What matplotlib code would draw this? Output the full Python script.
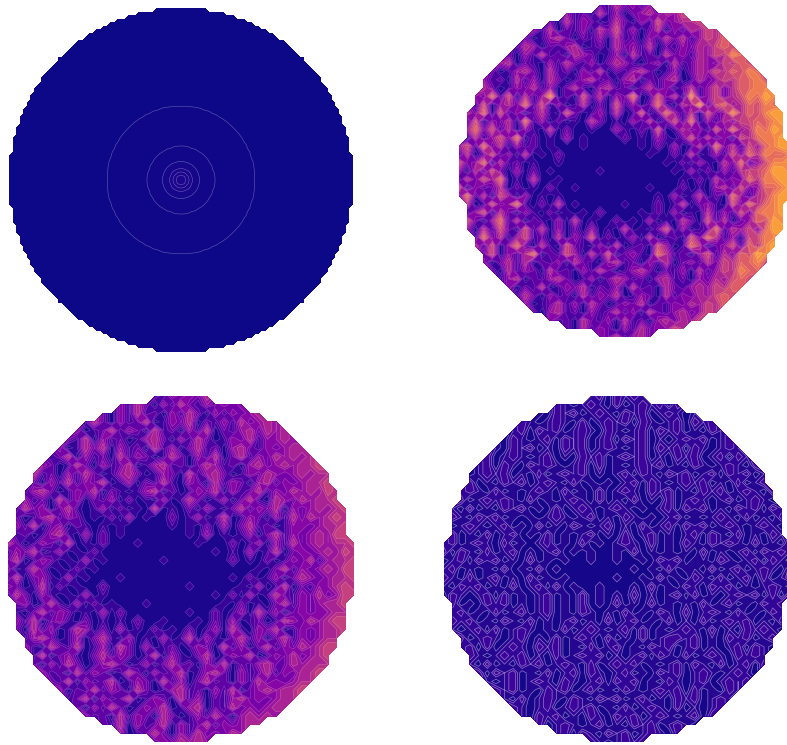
"""
Four contour maps on a disc, plasma colours, no axes.
The grids are rough hand estimates from the picture (digit = value in tenths).
"""

import numpy as np
import matplotlib
matplotlib.use("Agg")
import matplotlib.pyplot as plt

N = 41

# top left: a single sharp peak, value against radius at the visible rings
PEAK_RADII = [0.0, 0.03, 0.046, 0.064, 0.104, 0.19, 0.42, 1.0]
PEAK_VALUES = [0.028, 0.024, 0.020, 0.016, 0.012, 0.008, 0.004, 0.0]
PEAK_LEVELS = [0.0, 0.004, 0.008, 0.012, 0.016, 0.020, 0.024, 0.028]

TOP_RIGHT = [
    "2142313",
    "312041302342435",
    "2041320142031523445",
    "31402130425130240314354",
    "2013420213041203142413546",
    "143021340120423140213243565",
    "20314120432013041204231435476",
    "3402103142130243102304124325465",
    "201342041203140213420130243546576",
    "31204130420134120340213401423546675",
    "42013241302410341202413024135246677",
    "3261504137020514032601524071352457687",
    "1503426150301402051302610437156346576",
    "426051302410520130401502631405237465788",
    "150324061302010420103140251603142556678",
    "362514031040200100310205014230526347687",
    "041352602010301000020103102514130546778",
    "35162403120100010000001020301406241536788",
    "14025130401020000000000100204013152647667",
    "52360412010010000000000001020310426135778",
    "30415203020100000100000000103020314556887",
    "14253601040010000000000000010204132647788",
    "50312402010200100000000100020103415236678",
    "26140530301010000000000010301402063145788",
    "401523610204010000010002014023105264678",
    "135042031020101020000102030104131526778",
    "520361402103040100201030104205140236587",
    "304152051403020301040102503012614352688",
    "1624035120403150201304012052641305577",
    "4150362041052103040120530164023516478",
    "25031460215304150231064120351426587",
    "30241402130421034120314023142546675",
    "204132041203142013420213041354766",
    "1340213420130243120341203243565",
    "30214013240213041204213435466",
    "142031204132401320413243565",
    "3012413042013240213243546",
    "20341203124130421342354",
    "3120421304120342435",
    "204132031423354",
    "3241342",
]

BOTTOM_LEFT = [
    "2132324",
    "314203142132323",
    "2031412031420313234",
    "14203124013240213142343",
    "3012413204120314021342434",
    "214031201342031420132413343",
    "30142403120413024120342132344",
    "1240312041320142031402413243434",
    "320142031240134120243120342343445",
    "41203142013420132041342013243234344",
    "20314132401302141032041320341323445",
    "1342013240210134020132403124132434354",
    "3120413021302010301420130241043243445",
    "142302410130201040102031024132403234345",
    "201341320102030100201301401320314243454",
    "314023021010100000101020302412013323445",
    "120134103020100000001030101302413234355",
    "42013204010200010000001000201303142343445",
    "13240130102000000000000010103014023234354",
    "24013201030100000010000000201020132413445",
    "30142010201000000000000000000102413234355",
    "14023103010001000000000000102013024323445",
    "32014020100200000000010000010301402133454",
    "14203101030100000000000010203014213242355",
    "230141030201000100000000102010241323445",
    "102413201030200000001002013041302323344",
    "314023102010102001000102030120143243455",
    "204130143020301020102013041032401323445",
    "1342013024103010301403102413024132344",
    "3104214013042030120132041302413243455",
    "14023102413201403102401324013242345",
    "20314201342013024120314021342243444",
    "312041320142031240134203124132445",
    "2140312401320413024120314232344",
    "30214132042013412031402343445",
    "124031240132041302134232344",
    "2031420132401340214232344",
    "31204132042013142034343",
    "2140312403124132344",
    "301242031423243",
    "2324343",
]

BOTTOM_RIGHT = [
    "1202121",
    "210121020121202",
    "1021201210212012101",
    "21012102012120210120212",
    "1202120121021012021201021",
    "021012021201202120101212012",
    "10212010212012101202120210121",
    "2012101201021201212010212012021",
    "120210212101202010121201021012102",
    "01212010201212010120210212012021201",
    "20102120121020101012021012120102012",
    "1210201012102010201210212010212012102",
    "2012121020101210201020102012101201210",
    "102010212010201210121010120212010212021",
    "210212010101210120102101012010121020102",
    "012101201020102101201020120212012101210",
    "201020120102010120102012010120210201021",
    "12012102010120102010121020102102121020102",
    "20210201201012010100102010101020101202121",
    "01202120102010100100100102120110210120210",
    "12010102010201000000001010201102012012102",
    "21020120102010100000100102010210201202012",
    "10212010201202010010001020102102120101210",
    "02101202010120102010102010120201012120202",
    "201021201012010201020102010102012010212",
    "120102012012010210102010210201210201021",
    "212010210201012010201201020102012120102",
    "101202012101020121012020101210201021210",
    "2012101201020121020102012212010212012",
    "1202012102120102012010212012010120210",
    "21012120102012120101202102012102121",
    "10201021201210201212010120210201202",
    "202120102012021012010212012101210",
    "1012012102101202120102101201212",
    "21201021201201021012120201021",
    "102012102102120120102120121",
    "2101201212010201210201012",
    "10212010210212012101202",
    "2012101201021201210",
    "120210212012102",
    "2101212",
]


def parse_grid(rows, scale=0.1):
    grid = np.full((N, N), np.nan)
    for j, row in enumerate(rows):
        row = row[:N].center(N, ".")
        for i, ch in enumerate(row):
            if ch != ".":
                grid[j, i] = int(ch) * scale
    return grid


def draw(ax, x, y, z, levels, lw=0.4, alpha=0.35):
    ax.contourf(x, y, z, levels=levels, cmap="plasma", vmin=0, vmax=1)
    ax.contour(x, y, z, levels=levels[1:], colors="white", linewidths=lw, alpha=alpha)
    ax.set_xlim(-1, 1)
    ax.set_ylim(1, -1)
    ax.set_aspect("equal")
    ax.axis("off")


W, H = 787, 745
fig = plt.figure(figsize=(W / 100, H / 100), dpi=100)


def pixel_axes(cx, cy, r):
    return fig.add_axes([(cx - r) / W, 1 - (cy + r) / H, 2 * r / W, 2 * r / H])


# peak panel
xs = np.linspace(-1, 1, 101)
xx, yy = np.meshgrid(xs, xs)
rr = np.hypot(xx, yy)
peak = np.interp(rr, PEAK_RADII, PEAK_VALUES)
peak[rr > 0.99] = np.nan
draw(pixel_axes(181, 180, 175), xs, xs, peak, PEAK_LEVELS)

# noisy panels
gx = np.linspace(-1, 1, N)
levels = np.arange(0, 1.01, 0.05)
fine = np.arange(0, 0.2, 0.025)
draw(pixel_axes(625, 171, 166), gx, gx, parse_grid(TOP_RIGHT), levels, 0.3, 0.25)
draw(pixel_axes(181, 569, 173), gx, gx, parse_grid(BOTTOM_LEFT), levels, 0.3, 0.3)
draw(pixel_axes(617, 569, 173), gx, gx, parse_grid(BOTTOM_RIGHT, 0.05), fine, 0.5, 0.45)

fig.savefig("out.png", dpi=100)
